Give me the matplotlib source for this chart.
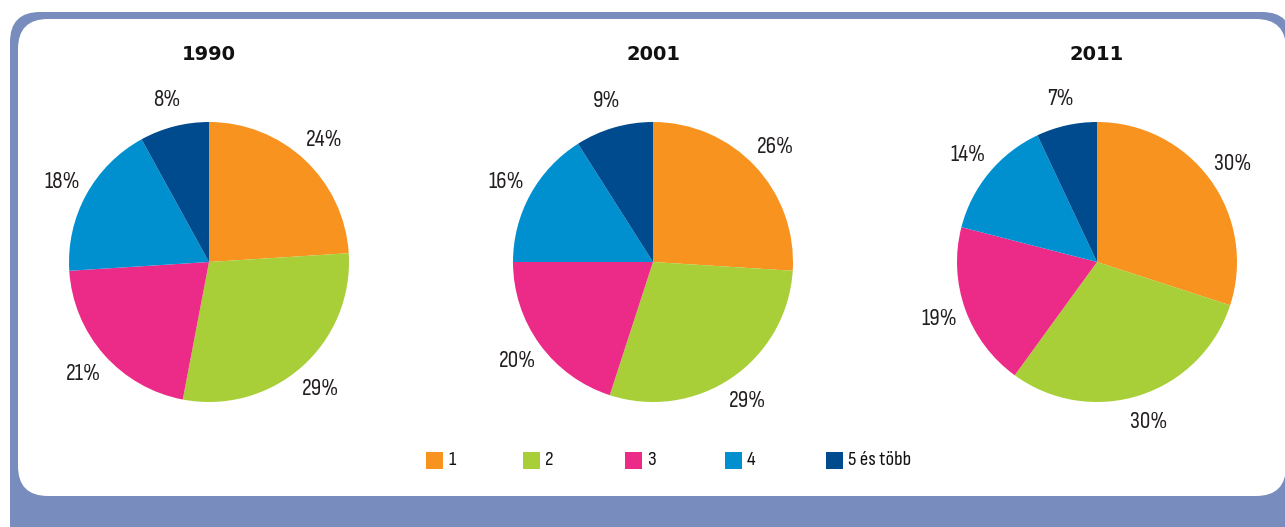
import matplotlib.pyplot as plt
from matplotlib.patches import FancyBboxPatch

# Household size shares (percent) for the three census years
years = ['1990', '2001', '2011']
categories = ['1', '2', '3', '4', '5 és több']
shares_1990 = [24, 29, 21, 18, 8]
shares_2001 = [26, 29, 20, 16, 9]
shares_2011 = [30, 30, 19, 14, 7]
all_shares = [shares_1990, shares_2001, shares_2011]

colors = ['#f7931e', '#a8cf38', '#ec2a87', '#0090d0', '#004b8d']
frame_color = '#788dbd'
label_font = ['Sofia Sans Condensed', 'Sofia Sans Semi Condensed', 'DejaVu Sans']

W, H = 1285, 527
fig = plt.figure(figsize=(W / 100, H / 100), dpi=100)


def px_box(x0, y0, x1, y1):
    # pixel box (top-left origin) -> figure fraction (left, bottom, width, height)
    return x0 / W, 1 - y1 / H, (x1 - x0) / W, (y1 - y0) / H


# outer frame and the white panel inside it
for (x0, y0, x1, y1), fc, rad in [((10, 12, 1292, 560), frame_color, 30),
                                  ((18, 19, 1286, 496), 'white', 30)]:
    l, b, w, h = px_box(x0, y0, x1, y1)
    fig.patches.append(FancyBboxPatch(
        (l, b), w, h, boxstyle=f'round,pad=0,rounding_size={rad / W}',
        transform=fig.transFigure, facecolor=fc, edgecolor='none',
        mutation_aspect=W / H, zorder=-5))

# one pie per year, radius 140 px
centers_x = [209, 653, 1097]
center_y = 262
R = 140
half = 200
for year, shares, cx in zip(years, all_shares, centers_x):
    ax = fig.add_axes(px_box(cx - half, center_y - half, cx + half, center_y + half))
    ax.set_zorder(2)
    wedges, texts = ax.pie(shares, colors=colors, startangle=90, counterclock=False,
                           labels=[f'{v}%' for v in shares], labeldistance=1.2,
                           wedgeprops=dict(linewidth=0),
                           textprops=dict(fontsize=17, family=label_font,
                                          fontweight='medium', color='#231f20'))
    for t in texts:
        t.set_horizontalalignment('center')
    lim = half / R
    ax.set_xlim(-lim, lim)
    ax.set_ylim(-lim, lim)
    ax.set_aspect('equal')
    ax.axis('off')
    fig.text(cx / W, 1 - 55 / H, year, ha='center', va='center',
             fontsize=14, fontweight='bold', color='#111111', zorder=3)

# legend row
legend_x = [426, 523, 625, 725, 826]
sq = 17
ly = 460
for x, c, name in zip(legend_x, colors, categories):
    l, b, w, h = px_box(x, ly - sq / 2, x + sq, ly + sq / 2)
    fig.patches.append(plt.Rectangle((l, b), w, h, transform=fig.transFigure,
                                     facecolor=c, edgecolor='none', zorder=3))
    fig.text((x + sq + 5) / W, 1 - ly / H, name, ha='left', va='center',
             fontsize=15, family=label_font, fontweight='semibold',
             color='#111111', zorder=3)

fig.savefig('out.png', dpi=100)
